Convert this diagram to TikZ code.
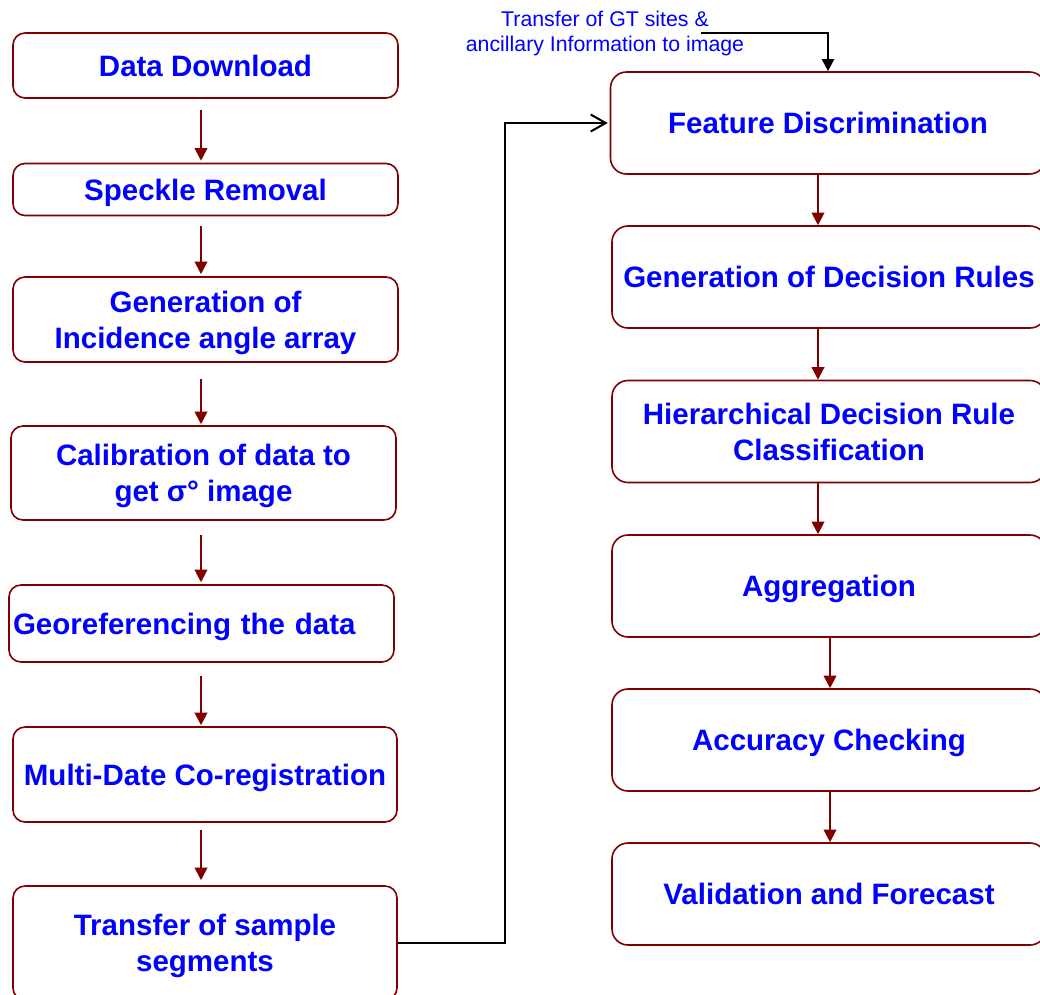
\documentclass[tikz,border=0pt]{standalone}
\usepackage{fontspec}
\setmainfont{Liberation Sans}
\usepackage{tikz}
\usepackage{xcolor}
\usetikzlibrary{arrows.meta, positioning}

\definecolor{boxred}{RGB}{128,0,0}
\definecolor{txtblue}{RGB}{0,0,255}

\begin{document}
\begin{tikzpicture}[x=1pt, y=-1pt,
        stage/.style={draw=boxred, line width=1.6pt, rounded corners=12pt, minimum width=385pt,
            inner sep=0pt, align=center, text=txtblue, font=\fontsize{29.5}{36}\selectfont\bfseries,
            text height=21.1pt, text depth=0pt},
        twolines/.style={text height=57.1pt},
        rstage/.style={stage, rounded corners=16pt, minimum width=434pt, minimum height=102pt},
        flow/.style={draw=boxred, line width=2pt, -{Triangle[width=12.5pt, length=12.5pt]}},
        link/.style={draw=black, line width=2pt}]
        \useasboundingbox (0,0) rectangle (1040,994);

        % left column
        \node[stage, minimum height=65pt] (dd) at (205.5, 65.5) {Data Download};
        \node[stage, minimum height=52pt] (sr) at (205.5, 189.5) {Speckle Removal};
        \node[stage, twolines, minimum height=85pt] (gia) at (205.5, 319.5) {Generation of\\Incidence angle array};
        \node[stage, twolines, minimum height=94pt] (cal) at (203.5, 473) {Calibration of data to\\get σ° image};
        \node[stage, minimum height=77pt, text width=377pt, align=left, inner xsep=4pt] (geo) at (201.5, 623.5) {Georeferencing the data};
        \node[stage, minimum height=95pt, minimum width=384pt] (mdc) at (205, 774.5) {Multi-Date Co-registration};
        \node[stage, twolines, minimum height=114pt, minimum width=384pt] (tss) at (205, 943) {Transfer of sample\\segments};

        % right column
        \node[rstage, minimum width=435pt] (fd) at (828, 123) {Feature Discrimination};
        \node[rstage] (gdr) at (829, 277) {Generation of Decision Rules};
        \node[rstage, twolines] (hdr) at (829, 431.5) {Hierarchical Decision Rule\\Classification};
        \node[rstage] (agg) at (829, 586) {Aggregation};
        \node[rstage] (acc) at (829, 740) {Accuracy Checking};
        \node[rstage] (vf) at (829, 894) {Validation and Forecast};

        \node[align=center, text=txtblue, inner sep=0pt, font=\fontsize{21.3}{25.7}\selectfont] (gt) at (605, 33.5) {Transfer of GT sites \&\\ancillary Information to image};

        \coordinate (lx) at (201, 0);
        \coordinate (rx) at (818, 0);
        \coordinate (ry) at (830, 0);
        \coordinate (gtin) at (701, 32.5);

        \draw[flow, shorten <=11pt, shorten >=2pt] (dd.south -| lx) -- (sr.north -| lx);
        \draw[flow, shorten <=10pt, shorten >=2pt] (sr.south -| lx) -- (gia.north -| lx);
        \draw[flow, shorten <=16pt, shorten >=1pt] (gia.south -| lx) -- (cal.north -| lx);
        \draw[flow, shorten <=14pt, shorten >=2pt] (cal.south -| lx) -- (geo.north -| lx);
        \draw[flow, shorten <=13pt, shorten >=1pt] (geo.south -| lx) -- (mdc.north -| lx);
        \draw[flow, shorten <=7pt, shorten >=5pt] (mdc.south -| lx) -- (tss.north -| lx);

        \draw[flow] (fd.south -| rx) -- (gdr.north -| rx);
        \draw[flow] (gdr.south -| rx) -- (hdr.north -| rx);
        \draw[flow] (hdr.south -| rx) -- (agg.north -| rx);
        \draw[flow] (agg.south -| ry) -- (acc.north -| ry);
        \draw[flow] (acc.south -| ry) -- (vf.north -| ry);

        \draw[link, -{Triangle[width=12pt, length=12pt]}] (gtin) -| (fd.north);
        \draw[link, -{Straight Barb[length=15pt, width=17pt]}, shorten >=2pt] (tss.east) -- ++(107,0) |- (fd.west);
    \end{tikzpicture}
\end{document}
